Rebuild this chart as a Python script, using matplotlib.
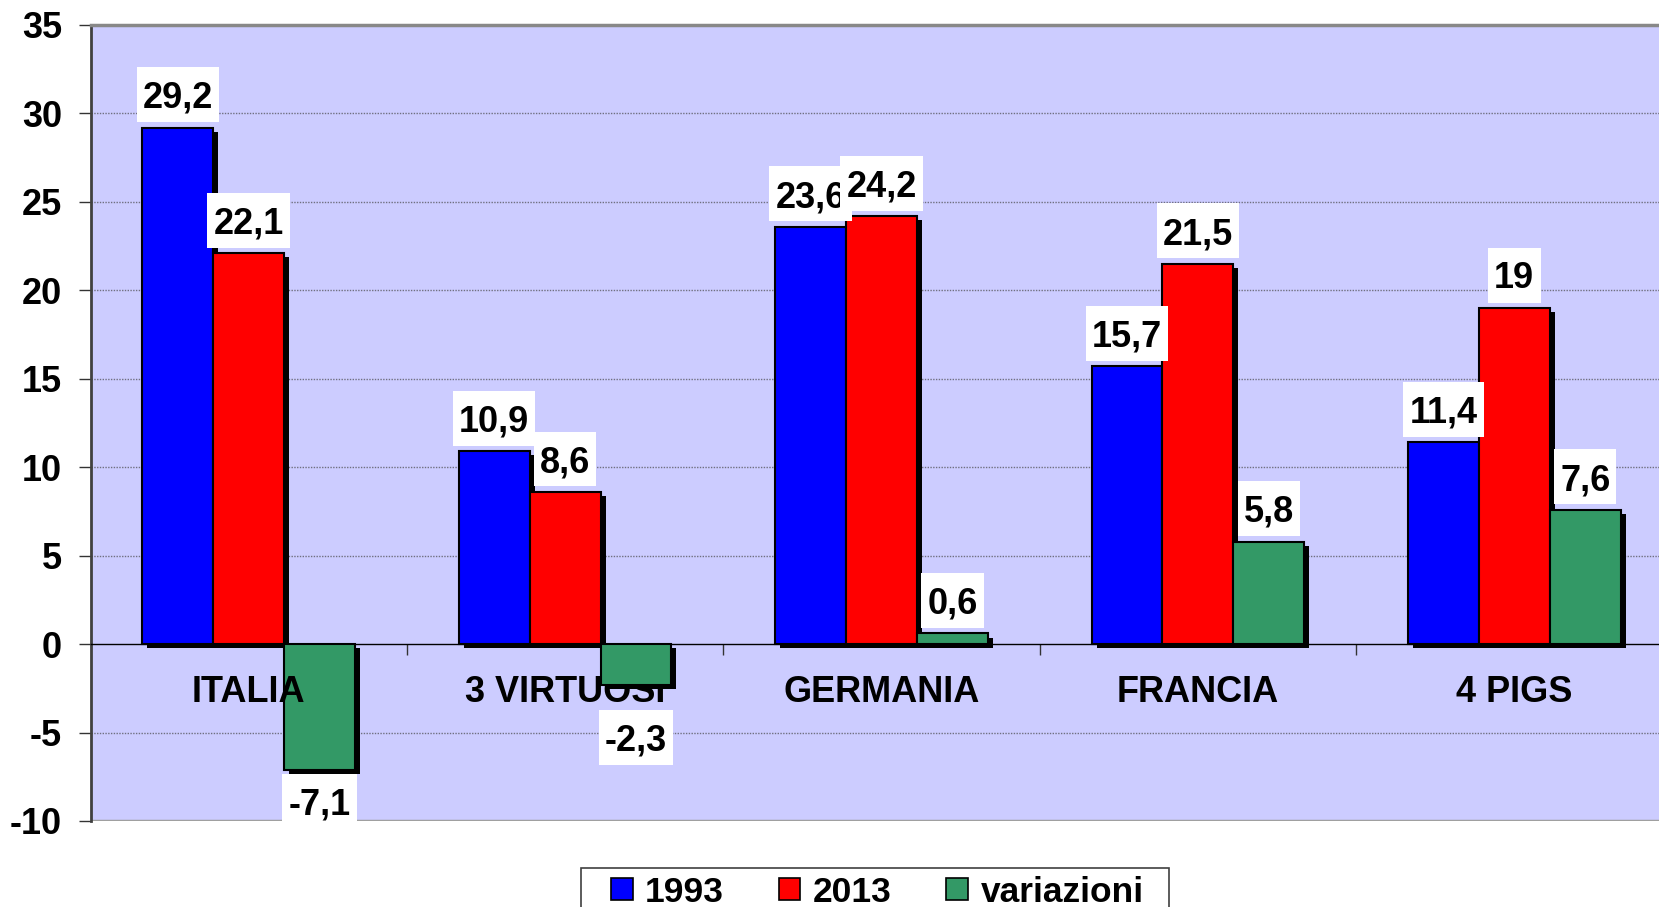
import numpy as np
import matplotlib
matplotlib.use("Agg")
import matplotlib.pyplot as plt
import matplotlib.patheffects as pe
from matplotlib.patches import Patch, Rectangle
from matplotlib.path import Path

plt.rcParams['font.family'] = ['Liberation Sans', 'DejaVu Sans']
plt.rcParams['font.weight'] = 'bold'
plt.rcParams['axes.unicode_minus'] = False

# dati
categorie = ["ITALIA", "3 VIRTUOSI", "GERMANIA", "FRANCIA", "4 PIGS"]
val_1993 = [29.2, 10.9, 23.6, 15.7, 11.4]
val_2013 = [22.1, 8.6, 24.2, 21.5, 19.0]
variazioni = [-7.1, -2.3, 0.6, 5.8, 7.6]

serie = [("1993", val_1993, "#0000FF"),
         ("2013", val_2013, "#FF0000"),
         ("variazioni", variazioni, "#339966")]

FS_LAB = 26
PADX, PAD_TOP, PAD_BOT = 0.17, 0.38, 0.17


def box_etichetta(x0, y0, width, height, mutation_size):
    # riquadro bianco attorno al valore (il testo ha spazio per la discendente sotto)
    px = PADX * mutation_size
    x1, y1 = x0 + width + px, y0 + height + PAD_TOP * mutation_size
    x0, y0 = x0 - px, y0 - PAD_BOT * mutation_size
    return Path([(x0, y0), (x1, y0), (x1, y1), (x0, y1), (x0, y0)], closed=True)


fig = plt.figure(figsize=(16.59, 9.07), dpi=100)
ax = fig.add_axes([90.5 / 1659, 1 - 821 / 907, 1582 / 1659, (821 - 25) / 907])
ax.set_facecolor("#CCCCFF")

x = np.arange(len(categorie))
w = 0.224
ombra = [pe.SimplePatchShadow(offset=(3.6, -2.9), shadow_rgbFace='black', alpha=1.0),
         pe.Normal()]
# distanza testo-barra in punti
off_pos = 0.38 * FS_LAB - 1.5
off_neg = 0.38 * FS_LAB + 3


def fmt(v):
    return f"{v:g}".replace(".", ",")


for i, (nome, vals, col) in enumerate(serie):
    pos = x + (i - 1) * w
    bars = ax.bar(pos, vals, width=w, color=col, edgecolor="black",
                  linewidth=1.5, zorder=3 + i * 0.1)
    for b in bars:
        b.set_path_effects(ombra)
    for px, v in zip(pos, vals):
        if v >= 0:
            ax.annotate(fmt(v), xy=(px, v), xytext=(0, off_pos), textcoords="offset points",
                        ha="center", va="bottom", fontsize=FS_LAB, fontweight="bold",
                        zorder=6, bbox=dict(boxstyle=box_etichetta, fc="white", ec="none"))
        else:
            # sotto la barra, ma non sopra l'etichetta della categoria
            ax.annotate(fmt(v), xy=(px, min(v, -3.5)), xytext=(0, -off_neg),
                        textcoords="offset points", ha="center", va="top",
                        fontsize=FS_LAB, fontweight="bold", zorder=6,
                        bbox=dict(boxstyle=box_etichetta, fc="white", ec="none"))

# etichette categorie dentro il grafico
for i, c in enumerate(categorie):
    ax.text(i, -2.75, c, ha="center", va="center", fontsize=26,
            fontweight="bold", zorder=6 if i == 0 else 2)

ax.set_xlim(-0.5, len(categorie) - 0.5)
ax.set_ylim(-10, 35)
ax.set_yticks(np.arange(-10, 36, 5))
ax.tick_params(axis="y", labelsize=26, length=8.6, width=1, color="#333333",
               direction="out", pad=12)
for t in ax.get_yticklabels():
    t.set_fontweight("bold")

# asse x sullo zero con tacche ai confini delle categorie
ax.spines["bottom"].set_position(("data", 0))
ax.spines["bottom"].set_color("black")
ax.spines["bottom"].set_linewidth(1)
ax.spines["bottom"].set_zorder(2.5)
ax.set_xticks(np.arange(0.5, len(categorie) - 0.5, 1))
ax.set_xticklabels([])
ax.tick_params(axis="x", length=8, width=1, color="#333333", direction="out")

ax.spines["left"].set_color("#404040")
ax.spines["left"].set_linewidth(2)
ax.spines["top"].set_color("#888888")
ax.spines["top"].set_linewidth(2.5)
ax.spines["right"].set_visible(False)

ax.axhline(-10, color="#A0A0A0", linewidth=2.5, zorder=2)
for g in range(5, 31, 5):
    ax.axhline(g, color="#707080", linewidth=1, linestyle=(0, (1, 1)), zorder=1)
ax.axhline(-5, color="#707080", linewidth=1, linestyle=(0, (1, 1)), zorder=1)

# legenda: cornice disegnata a parte
fig.patches.append(Rectangle((581 / 1659, -0.05), (1169 - 581) / 1659, 0.05 + 1 - 868 / 907,
                             transform=fig.transFigure, fc="white", ec="#404040", lw=1.2))
handles = [Patch(facecolor=col, edgecolor="black", linewidth=1.2) for _, _, col in serie]
leg = fig.legend(handles, [s[0] for s in serie], loc="center left",
                 bbox_to_anchor=(611 / 1659, 1 - 892 / 907), ncol=3,
                 prop={"size": 25.5, "weight": "bold"}, frameon=False,
                 handlelength=0.61, handleheight=0.61,
                 handletextpad=0.35, columnspacing=1.55, borderpad=0,
                 borderaxespad=0)

fig.savefig("out.png", dpi=100)
